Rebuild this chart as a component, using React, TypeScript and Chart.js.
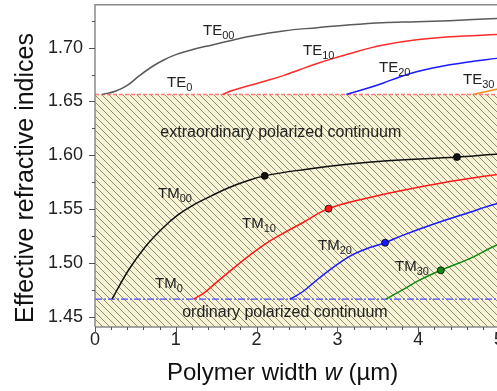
import React, { useEffect, useRef } from "react";
import { Chart, registerables } from "chart.js";

Chart.register(...registerables);

const FONT = "'Liberation Sans', Arial, Helvetica, sans-serif";

// ---- data (x: polymer width in µm, y: effective refractive index) ----
const te00X = [0.09, 0.25, 0.4, 0.55, 0.7, 0.85, 1.0, 1.2, 1.45, 1.7, 1.92, 2.33, 2.75, 3.16, 3.56, 3.98, 4.39, 4.97, 5.5];
const te00Y = [1.6566, 1.6595, 1.665, 1.674, 1.682, 1.6885, 1.6935, 1.698, 1.7025, 1.7068, 1.7105, 1.7155, 1.7185, 1.7212, 1.7231, 1.724, 1.725, 1.727, 1.7285];

const te10X = [1.58, 1.71, 1.92, 2.12, 2.33, 2.54, 2.75, 2.95, 3.16, 3.36, 3.57, 3.98, 4.39, 4.97, 5.5];
const te10Y = [1.6566, 1.6605, 1.665, 1.6692, 1.674, 1.6797, 1.6852, 1.69, 1.6945, 1.6988, 1.7025, 1.7072, 1.71, 1.7122, 1.714];

const te20X = [3.11, 3.36, 3.57, 3.77, 3.98, 4.18, 4.39, 4.6, 4.97, 5.5];
const te20Y = [1.6566, 1.662, 1.6672, 1.6728, 1.6775, 1.681, 1.684, 1.6865, 1.69, 1.695];

const te30X = [4.68, 4.97, 5.5];
const te30Y = [1.6566, 1.6613, 1.672];

const tm00X = [0.21, 0.41, 0.62, 0.83, 1.03, 1.23, 1.44, 1.64, 1.85, 2.1, 2.6, 3.15, 3.62, 4.48, 4.96, 5.5];
const tm00Y = [1.4666, 1.493, 1.515, 1.532, 1.545, 1.5545, 1.5625, 1.5695, 1.5755, 1.581, 1.587, 1.592, 1.595, 1.5985, 1.601, 1.603];

const tm10X = [1.22, 1.35, 1.5, 1.7, 1.9, 2.1, 2.3, 2.57, 2.89, 3.4, 3.8, 4.22, 4.63, 4.96, 5.5];
const tm10Y = [1.4666, 1.4725, 1.482, 1.4945, 1.5065, 1.5175, 1.5265, 1.5375, 1.5506, 1.561, 1.5675, 1.5735, 1.5785, 1.582, 1.587];

const tm20X = [2.41, 2.57, 2.78, 2.99, 3.19, 3.4, 3.59, 3.8, 4.22, 4.63, 4.96, 5.5];
const tm20Y = [1.4666, 1.4735, 1.4865, 1.4985, 1.508, 1.5145, 1.519, 1.5256, 1.537, 1.547, 1.555, 1.563];

const tm30X = [3.6, 3.8, 4.01, 4.28, 4.63, 4.96, 5.5];
const tm30Y = [1.4666, 1.475, 1.484, 1.4934, 1.504, 1.5164, 1.533];

// marked points on TM curves
const markerX = [2.1, 4.48, 2.89, 3.59, 4.28];
const markerY = [1.581, 1.5985, 1.5506, 1.519, 1.4934];
const markerColors = ["#111111", "#111111", "#ff1a1a", "#1a1aff", "#118811"];

// continuum boundaries
const boundaryX = [0, 5.5];
const extraordinaryY = [1.6566, 1.6566];
const ordinaryY = [1.4666, 1.4666];

// curve labels
const labelMain = ["TE", "TE", "TE", "TE", "TE", "TM", "TM", "TM", "TM", "TM"];
const labelSub = ["00", "0", "10", "20", "30", "00", "10", "0", "20", "30"];
const labelX = [1.337, 0.891, 2.574, 3.515, 4.554, 0.78, 1.819, 0.743, 2.76, 3.713];
const labelY = [1.712, 1.6631, 1.6935, 1.6769, 1.6659, 1.5607, 1.533, 1.4768, 1.5118, 1.4924];

const regionText = ["extraordinary polarized continuum", "ordinary polarized continuum"];
const regionX = [2.3, 2.35];
const regionY = [1.6216, 1.4546];

const xTicks = [0, 1, 2, 3, 4, 5];
const yTicks = [1.45, 1.5, 1.55, 1.6, 1.65, 1.7];

const pts = (xs: number[], ys: number[]) => xs.map((x, i) => ({ x, y: ys[i] }));

function makeHatch(): CanvasPattern | string {
  const s = 7;
  const c = document.createElement("canvas");
  c.width = s;
  c.height = s;
  const g = c.getContext("2d");
  if (!g) return "#f6f2d2";
  g.fillStyle = "#f7f3d3";
  g.fillRect(0, 0, s, s);
  g.strokeStyle = "#8a8a80";
  g.lineWidth = 1;
  g.beginPath();
  g.moveTo(-1, -1);
  g.lineTo(s + 1, s + 1);
  g.moveTo(-1, s - 1);
  g.lineTo(1, s + 1);
  g.moveTo(s - 1, -1);
  g.lineTo(s + 1, 1);
  g.stroke();
  const p = g.createPattern(c, "repeat");
  return p || "#f6f2d2";
}

const framePlugin = {
  id: "frameAndText",
  afterDatasetsDraw(chart: any) {
    const { ctx, chartArea, scales } = chart;
    const xs = scales.x;
    const ys = scales.y;
    const { left, top, bottom, right } = chartArea;
    ctx.save();
    // labels
    ctx.fillStyle = "#222";
    ctx.textBaseline = "alphabetic";
    ctx.textAlign = "left";
    for (let i = 0; i < labelMain.length; i++) {
      const px = xs.getPixelForValue(labelX[i]);
      const py = ys.getPixelForValue(labelY[i]);
      ctx.font = `15px ${FONT}`;
      ctx.fillText(labelMain[i], px, py);
      const w = ctx.measureText(labelMain[i]).width;
      ctx.font = `11px ${FONT}`;
      ctx.fillText(labelSub[i], px + w, py + 4);
    }
    ctx.font = `16px ${FONT}`;
    ctx.textAlign = "center";
    ctx.textBaseline = "middle";
    for (let i = 0; i < regionText.length; i++) {
      ctx.fillText(regionText[i], xs.getPixelForValue(regionX[i]), ys.getPixelForValue(regionY[i]));
    }
    // frame
    ctx.strokeStyle = "#8a8a8a";
    ctx.lineWidth = 1.5;
    ctx.beginPath();
    ctx.moveTo(left, bottom);
    ctx.lineTo(left, top);
    ctx.lineTo(right, top);
    ctx.lineTo(right, bottom);
    ctx.lineTo(left, bottom);
    ctx.stroke();
    // ticks
    ctx.strokeStyle = "#555";
    ctx.lineWidth = 1;
    ctx.beginPath();
    for (let k = 0; k <= 27; k++) {
      const v = k * 0.2;
      const px = Math.round(xs.getPixelForValue(v)) + 0.5;
      const len = k % 5 === 0 ? 6 : 3;
      ctx.moveTo(px, bottom);
      ctx.lineTo(px, bottom + len);
    }
    for (let k = Math.ceil(ys.min / 0.025); k <= Math.floor(ys.max / 0.025); k++) {
      const v = k * 0.025;
      const py = Math.round(ys.getPixelForValue(v)) + 0.5;
      const len = k % 2 === 0 ? 6 : 3;
      ctx.moveTo(left, py);
      ctx.lineTo(left - len, py);
    }
    ctx.stroke();
    // axis titles
    ctx.fillStyle = "#111";
    ctx.textAlign = "left";
    ctx.textBaseline = "alphabetic";
    const parts: [string, boolean][] = [["Polymer width ", false], ["w", true], [" (\u00b5m)", false]];
    let tx = 167;
    for (const [t, it] of parts) {
      ctx.font = `${it ? "italic " : ""}24px ${FONT}`;
      ctx.fillText(t, tx, 380);
      tx += ctx.measureText(t).width;
    }
    ctx.translate(33, 178);
    ctx.rotate(-Math.PI / 2);
    ctx.textAlign = "center";
    ctx.font = `25px ${FONT}`;
    ctx.fillText("Effective refractive indices", 0, 0);
    ctx.restore();
  },
};

export default function App() {
  const ref = useRef<HTMLCanvasElement | null>(null);
  useEffect(() => {
    if (!ref.current) return;
    const hatch = makeHatch();
    const line = (xs: number[], ys: number[], color: string) => ({
      data: pts(xs, ys),
      borderColor: color,
      borderWidth: 1.5,
      pointRadius: 0,
      tension: 0.4,
      fill: false,
      order: 0,
    });
    const chart = new Chart(ref.current, {
      type: "line",
      data: {
        datasets: [
          line(te00X, te00Y, "#5a5a5a"),
          line(te10X, te10Y, "#ff2a2a"),
          line(te20X, te20Y, "#1a1aff"),
          line(te30X, te30Y, "#ff8c1a"),
          line(tm00X, tm00Y, "#111111"),
          line(tm10X, tm10Y, "#ff1a1a"),
          line(tm20X, tm20Y, "#1a1aff"),
          line(tm30X, tm30Y, "#118811"),
          {
            data: pts(markerX, markerY),
            showLine: false,
            pointRadius: 3.5,
            pointBackgroundColor: markerColors,
            pointBorderColor: "#000",
            pointBorderWidth: 0.8,
            order: -1,
          } as any,
          {
            data: pts(boundaryX, ordinaryY),
            borderColor: "#4a4aff",
            borderWidth: 1.3,
            borderDash: [7, 2, 2, 2],
            pointRadius: 0,
            fill: false,
            order: 5,
          },
          {
            data: pts(boundaryX, extraordinaryY),
            borderColor: "#ff7a7a",
            borderWidth: 1.5,
            borderDash: [4, 2],
            pointRadius: 0,
            fill: "start",
            backgroundColor: hatch as any,
            order: 10,
          },
        ],
      },
      options: {
        responsive: false,
        animation: false,
        events: [],
        layout: { padding: { left: 0, top: 3, right: 20.6, bottom: 0 } },
        plugins: {
          legend: { display: false },
          tooltip: { enabled: false },
          filler: { drawTime: "beforeDatasetsDraw" } as any,
        },
        scales: {
          x: {
            type: "linear",
            min: 0,
            max: 5.5,
            afterFit: (s: any) => {
              s.height = 64;
              s.paddingLeft = 0;
              s.paddingRight = 0;
            },
            afterBuildTicks: (s: any) => {
              s.ticks = xTicks.map((v) => ({ value: v }));
            },
            ticks: {
              padding: 2,
              color: "#222",
              font: { family: FONT, size: 18 },
              callback: (v: any) => String(v),
            },
            grid: { display: false, drawTicks: false },
            border: { display: false },
          },
          y: {
            type: "linear",
            min: 1.4408,
            max: 1.7397,
            afterFit: (s: any) => {
              s.width = 95;
              s.paddingTop = 0;
              s.paddingBottom = 0;
            },
            afterBuildTicks: (s: any) => {
              s.ticks = yTicks.map((v) => ({ value: v }));
            },
            ticks: {
              padding: 12,
              color: "#222",
              font: { family: FONT, size: 18 },
              callback: (v: any) => Number(v).toFixed(2),
            },
            grid: { display: false, drawTicks: false },
            border: { display: false },
          },
        },
      },
      plugins: [framePlugin],
    });
    return () => chart.destroy();
  }, []);
  return (
    <div style={{ position: "fixed", left: 0, top: 0, width: 497, height: 391, overflow: "hidden", background: "#fff" }}>
      <canvas ref={ref} width={560} height={391} style={{ display: "block" }} />
    </div>
  );
}
